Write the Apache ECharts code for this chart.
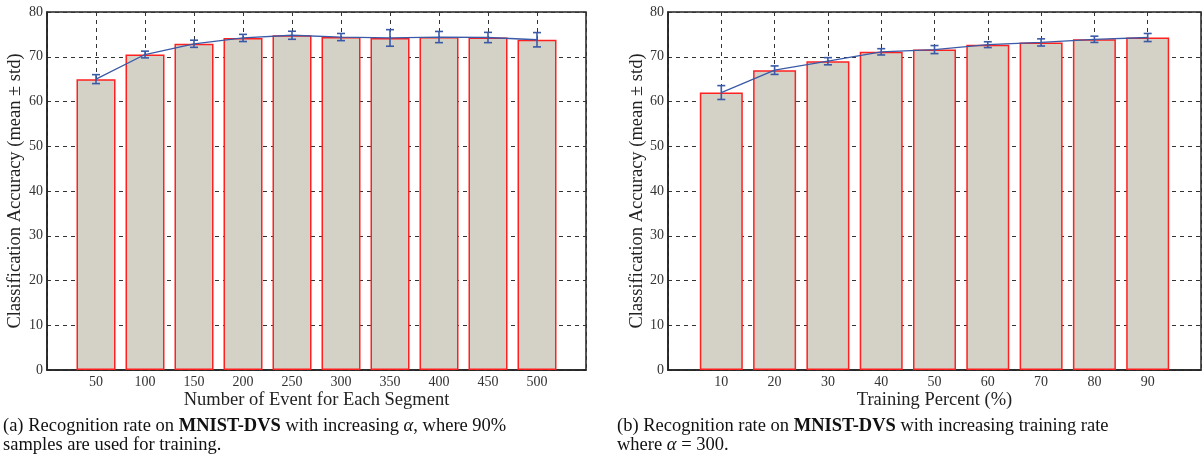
<!DOCTYPE html>
<html>
<head>
<meta charset="utf-8">
<script src="https://cdn.jsdelivr.net/npm/echarts@6/dist/echarts.min.js"></script>
<style>
  html, body { margin: 0; padding: 0; background: #fff; }
  #main { width: 1204px; height: 474px; }
</style>
</head>
<body>
<div id="main"></div>
<script>
// (a) accuracy vs number of events per segment
var eventCounts = [50, 100, 150, 200, 250, 300, 350, 400, 450, 500];
var eventMean = [65.0, 70.5, 72.9, 74.2, 74.8, 74.4, 74.2, 74.4, 74.3, 73.8];
var eventStd = [1.0, 0.75, 0.8, 0.8, 0.9, 0.8, 1.85, 1.25, 1.15, 1.6];

// (b) accuracy vs training percent
var trainPercents = [10, 20, 30, 40, 50, 60, 70, 80, 90];
var trainMean = [62.0, 67.0, 69.0, 71.1, 71.6, 72.7, 73.2, 73.9, 74.3];
var trainStd = [1.55, 0.95, 0.8, 0.7, 0.9, 0.65, 0.8, 0.7, 0.9];

var yTicks = [0, 10, 20, 30, 40, 50, 60, 70, 80];

var font = 'Liberation Serif';
var barFill = '#d4d1c6';
var barEdge = '#ff2020';
var blue = '#3a5aa8';
var gridLine = { color: '#333', type: [4, 4], width: 1 };

function pairs(xs, ys) {
  return xs.map(function (x, i) { return [x, ys[i]]; });
}
function errs(xs, m, s) {
  return xs.map(function (x, i) { return [x, m[i] - s[i], m[i] + s[i]]; });
}

// vertical error bar with caps
function errorItem(params, api) {
  var x = api.value(0);
  var lo = api.coord([x, api.value(1)]);
  var hi = api.coord([x, api.value(2)]);
  var cap = 4;
  var st = { stroke: blue, lineWidth: 1.6 };
  return {
    type: 'group',
    children: [
      { type: 'line', shape: { x1: lo[0], y1: lo[1], x2: hi[0], y2: hi[1] }, style: st },
      { type: 'line', shape: { x1: lo[0] - cap, y1: lo[1], x2: lo[0] + cap, y2: lo[1] }, style: st },
      { type: 'line', shape: { x1: hi[0] - cap, y1: hi[1], x2: hi[0] + cap, y2: hi[1] }, style: st }
    ]
  };
}

function xAxisFor(idx, max, step, name) {
  return {
    type: 'value', gridIndex: idx, min: 0, max: max, interval: step,
    name: name, nameLocation: 'middle', nameGap: 21, nameMoveOverlap: false,
    nameTextStyle: { fontFamily: font, fontSize: 18.5, color: '#222' },
    axisLine: { show: true, lineStyle: { color: '#222', width: 1.5 } },
    axisTick: { show: false },
    axisLabel: {
      fontFamily: font, fontSize: 14, color: '#333', margin: 5,
      formatter: function (v) { return (v === 0 || v === max) ? '' : String(v); }
    },
    splitLine: { show: true, lineStyle: gridLine }
  };
}

function yAxisFor(idx, gap) {
  return {
    type: 'value', gridIndex: idx, min: yTicks[0], max: yTicks[yTicks.length - 1], interval: 10,
    name: 'Classification Accuracy (mean \u00b1 std)', nameLocation: 'middle', nameGap: gap,
    nameMoveOverlap: false,
    nameTextStyle: { fontFamily: font, fontSize: 18.5, color: '#222' },
    axisLine: { show: true, lineStyle: { color: '#222', width: 1.5 } },
    axisTick: { show: false },
    axisLabel: { fontFamily: font, fontSize: 14, color: '#333', margin: 4 },
    splitLine: { show: true, lineStyle: gridLine }
  };
}

var capRich = {
  b: { fontWeight: 'bold', fontFamily: font, fontSize: 18.5 },
  i: { fontStyle: 'italic', fontFamily: font, fontSize: 18.5 }
};

var option = {
  animation: false,
  grid: [
    { left: 47, top: 12, width: 539, height: 358, show: true, borderColor: '#222', borderWidth: 1.5 },
    { left: 668, top: 12, width: 540, height: 358, show: true, borderColor: '#222', borderWidth: 1.5 }
  ],
  xAxis: [
    xAxisFor(0, 550, 50, 'Number of Event for Each Segment'),
    xAxisFor(1, 100, 10, 'Training Percent (%)')
  ],
  yAxis: [yAxisFor(0, 22), yAxisFor(1, 21)],
  series: [
    {
      type: 'bar', xAxisIndex: 0, yAxisIndex: 0, barWidth: 39,
      itemStyle: { color: barFill, borderColor: barEdge, borderWidth: 1.5 },
      data: pairs(eventCounts, eventMean)
    },
    {
      type: 'line', xAxisIndex: 0, yAxisIndex: 0, symbol: 'none', z: 3,
      lineStyle: { color: blue, width: 1.3 }, data: pairs(eventCounts, eventMean)
    },
    {
      type: 'custom', xAxisIndex: 0, yAxisIndex: 0, z: 4,
      renderItem: errorItem, data: errs(eventCounts, eventMean, eventStd)
    },
    {
      type: 'bar', xAxisIndex: 1, yAxisIndex: 1, barWidth: 43,
      itemStyle: { color: barFill, borderColor: barEdge, borderWidth: 1.5 },
      data: pairs(trainPercents, trainMean)
    },
    {
      type: 'line', xAxisIndex: 1, yAxisIndex: 1, symbol: 'none', z: 3,
      lineStyle: { color: blue, width: 1.3 }, data: pairs(trainPercents, trainMean)
    },
    {
      type: 'custom', xAxisIndex: 1, yAxisIndex: 1, z: 4,
      renderItem: errorItem, data: errs(trainPercents, trainMean, trainStd)
    }
  ],
  graphic: [
    {
      type: 'text', left: 3, top: 417,
      style: {
        text: '(a) Recognition rate on {b|MNIST-DVS} with increasing {i|\u03b1}, where 90%\nsamples are used for training.',
        fontFamily: font, fontSize: 18.5, fill: '#111', lineHeight: 19, rich: capRich
      }
    },
    {
      type: 'text', left: 617, top: 417,
      style: {
        text: '(b) Recognition rate on {b|MNIST-DVS} with increasing training rate\nwhere {i|\u03b1} = 300.',
        fontFamily: font, fontSize: 18.5, fill: '#111', lineHeight: 19, rich: capRich
      }
    }
  ]
};

var chart = echarts.init(document.getElementById('main'), null, { renderer: 'canvas' });
chart.setOption(option);
</script>
</body>
</html>
